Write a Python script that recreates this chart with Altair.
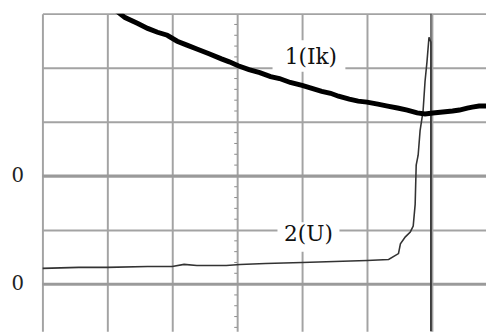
import altair as alt
import pandas as pd

# Oscilloscope screen, units = divisions (x to the right, y downward from top graticule line)
grid_x = [0, 1, 2, 3, 4, 5, 6]
grid_y = [0, 1, 2, 3, 4, 5]
minor_ticks_y = [0.2, 0.4, 0.6, 0.8, 1.2, 1.4, 1.6, 1.8, 2.2, 2.4, 2.6, 2.8,
                 3.2, 3.4, 3.6, 3.8, 4.2, 4.4, 4.6, 4.8, 5.2, 5.4, 5.6, 5.8]
zero_levels = [3.0, 5.0]
zero_labels = ["0", "0"]

# trace 1 (Ik)
ik_x = [1.136, 1.273, 1.470, 1.621, 1.773, 1.924, 2.076, 2.227, 2.379, 2.576, 2.758,
        2.879, 3.015, 3.182, 3.348, 3.515, 3.652, 3.818, 4.000, 4.152, 4.303, 4.439,
        4.561, 4.727, 4.864, 5.000, 5.167, 5.318, 5.470, 5.621, 5.773, 5.894, 6.015,
        6.167, 6.318, 6.424, 6.545, 6.621, 6.727, 6.833]
ik_y = [-0.055, 0.073, 0.182, 0.273, 0.345, 0.400, 0.509, 0.582, 0.655, 0.745, 0.836,
        0.891, 0.964, 1.036, 1.091, 1.164, 1.200, 1.273, 1.327, 1.382, 1.436, 1.473,
        1.527, 1.582, 1.618, 1.636, 1.673, 1.709, 1.745, 1.782, 1.836, 1.855, 1.836,
        1.818, 1.800, 1.782, 1.745, 1.727, 1.709, 1.709]

# trace 2 (U)
u_x = [0.0, 0.561, 1.0, 1.621, 2.0, 2.182, 2.379, 2.833, 3.045, 3.439, 4.0, 4.5, 5.0,
       5.333, 5.485, 5.515, 5.591, 5.667, 5.712, 5.742, 5.758, 5.788, 5.818, 5.864,
       5.894, 5.924, 5.955, 5.985, 5.985]
u_y = [4.709, 4.691, 4.691, 4.673, 4.673, 4.636, 4.655, 4.655, 4.636, 4.618, 4.600,
       4.582, 4.564, 4.545, 4.436, 4.255, 4.127, 4.036, 3.927, 3.527, 2.800, 2.618,
       2.164, 1.800, 1.255, 0.891, 0.436, 0.527, 6.070]

cursor_x = [5.985]

labels = ["1(Ik)", "2(U)"]
label_x = [4.136, 4.098]
label_y = [0.81, 4.073]
box_x1 = [3.545, 3.621]
box_x2 = [4.667, 4.576]
box_y1 = [0.49, 3.855]
box_y2 = [1.073, 4.40]

XMAX = 451 / 66
YMAX = 323 / 55
FONT = "DejaVu Serif"


def X(field="x"):
    return alt.X(f"{field}:Q", scale=alt.Scale(domain=[0, XMAX], nice=False, zero=False),
                 axis=alt.Axis(values=grid_x, grid=True, labels=False, ticks=False,
                               domain=False, title=None, gridColor="#a3a3a3", gridWidth=2,
                               gridOpacity=1))


def Y(field="y"):
    return alt.Y(f"{field}:Q", scale=alt.Scale(domain=[0, YMAX], nice=False, zero=False, reverse=True),
                 axis=alt.Axis(values=grid_y, grid=True, labels=False, ticks=False,
                               domain=False, title=None, gridColor="#a3a3a3", gridWidth=2,
                               gridOpacity=1))


base_df = pd.DataFrame({"y": zero_levels, "t": zero_labels})
zero_lines = alt.Chart(base_df).mark_rule(color="#9a9a9a", strokeWidth=3).encode(
    y=Y(), x=alt.value(0), x2=alt.value(451))

zero_text = alt.Chart(base_df.assign(x=-0.379)).mark_text(
    font=FONT, fontSize=20, color="#222", clip=False, baseline="middle", align="center").encode(
    x=X(), y=Y(), text="t:N")

tick_df = pd.DataFrame({"y": minor_ticks_y, "x": [2.955] * len(minor_ticks_y), "x2": [3.0] * len(minor_ticks_y)})
minor = alt.Chart(tick_df).mark_rule(color="#8a8a8a", strokeWidth=1).encode(
    x=X(), x2="x2:Q", y=Y())

box_df = pd.DataFrame({"x": box_x1, "x2": box_x2, "y": box_y1, "y2": box_y2})
boxes = alt.Chart(box_df).mark_rect(color="white").encode(x=X(), x2="x2:Q", y=Y(), y2="y2:Q")

lab_df = pd.DataFrame({"x": label_x, "y": label_y, "t": labels})
lab = alt.Chart(lab_df).mark_text(font=FONT, fontSize=22, color="#111",
                                  baseline="middle", align="center").encode(
    x=X(), y=Y(), text="t:N")

cursor = alt.Chart(pd.DataFrame({"x": cursor_x})).mark_rule(color="#555555", strokeWidth=1.5).encode(
    x=X(), y=alt.value(0), y2=alt.value(323))

ik_df = pd.DataFrame({"x": ik_x, "y": ik_y, "o": list(range(len(ik_x)))})
ik = alt.Chart(ik_df).mark_line(color="black", strokeWidth=5, clip=True, interpolate="linear").encode(
    x=X(), y=Y(), order="o:Q")

u_df = pd.DataFrame({"x": u_x, "y": u_y, "o": list(range(len(u_x)))})
u = alt.Chart(u_df).mark_line(color="#333333", strokeWidth=1.6, clip=True).encode(
    x=X(), y=Y(), order="o:Q")

chart = alt.layer(zero_lines, minor, boxes, lab, zero_text, cursor, u, ik).properties(
    width=451, height=323,
    autosize=alt.AutoSizeParams(type="none"),
    padding={"left": 35, "top": 3, "right": 0, "bottom": 0},
    background="white",
).configure_view(strokeWidth=0)

chart.save("out.html", embed_options={"renderer": "svg", "actions": False})
